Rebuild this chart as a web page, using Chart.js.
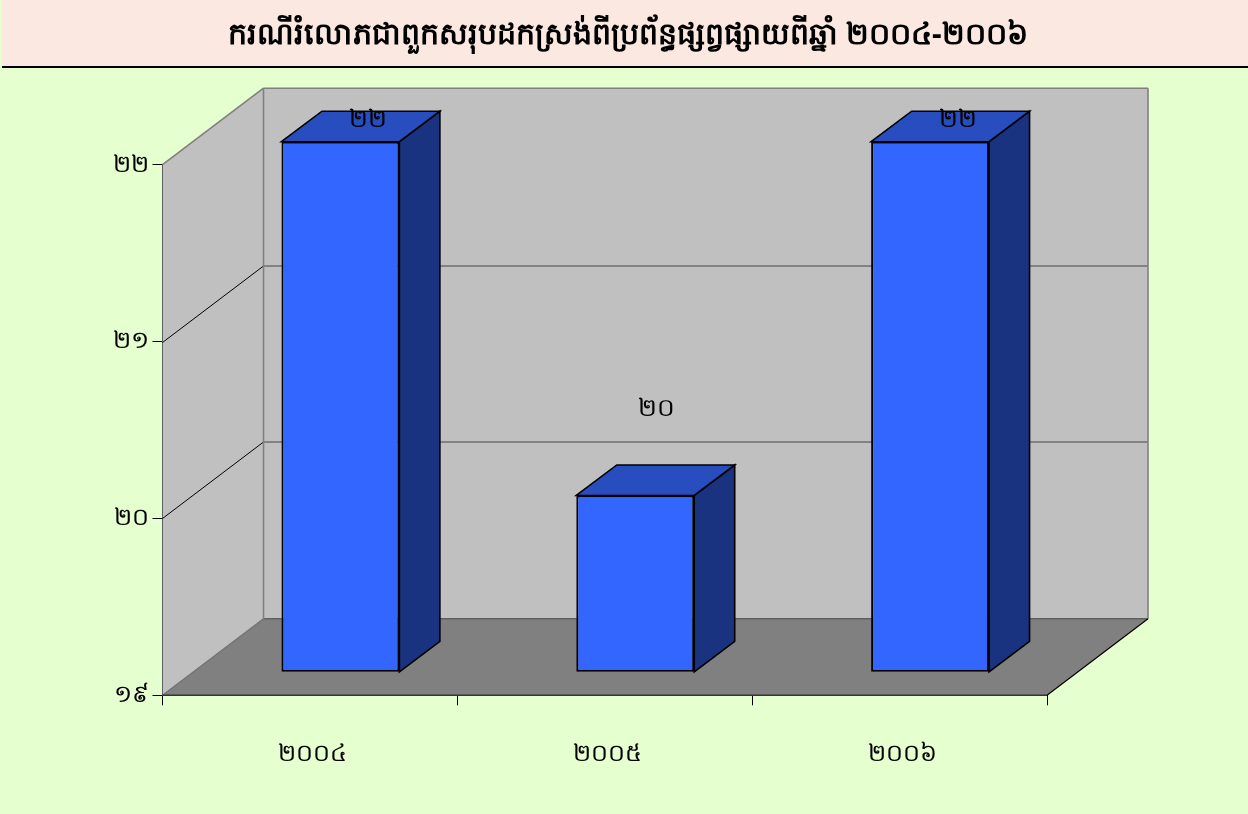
<!DOCTYPE html>
<html><head><meta charset="utf-8">
<style>html,body{margin:0;padding:0;background:#E6FFCE}canvas{display:block}</style>
<script src="https://cdn.jsdelivr.net/npm/chart.js@4"></script></head>
<body><div style="width:1248px;height:814px;position:relative"><canvas id="c" width="1248" height="814"></canvas></div>
<script>
const titleText = "ករណីរំលោភជាពួកសរុបដកស្រង់ពីប្រព័ន្ធផ្សព្វផ្សាយពីឆ្នាំ ២០០៤-២០០៦";
const categories = ["២០០៤", "២០០៥", "២០០៦"];
const values = [22, 20, 22];
const valueLabels = ["២២", "២០", "២២"];
const tickValues = [19, 20, 21, 22];
const tickLabels = {19: "១៩", 20: "២០", 21: "២១", 22: "២២"};
const FONT = "'Noto Sans', 'DejaVu Sans', sans-serif";
const DX = 101, DY = -76.5;     // full depth of the floor
const BX = 30.5, BY = -23;      // bar offset from the front plane
const BDX = 40.5, BDY = -30.5;  // bar depth

function poly(ctx, pts, fill, stroke, lw) {
  ctx.beginPath();
  pts.forEach((p, i) => i ? ctx.lineTo(p[0], p[1]) : ctx.moveTo(p[0], p[1]));
  ctx.closePath();
  if (fill) { ctx.fillStyle = fill; ctx.fill(); }
  if (stroke) { ctx.strokeStyle = stroke; ctx.lineWidth = lw || 1; ctx.stroke(); }
}
function seg(ctx, x1, y1, x2, y2, color, lw) {
  ctx.beginPath(); ctx.moveTo(x1, y1); ctx.lineTo(x2, y2);
  ctx.strokeStyle = color; ctx.lineWidth = lw; ctx.stroke();
}
const scene = {
  id: "scene",
  beforeDraw(chart) {
    const ctx = chart.ctx, W = chart.width;
    ctx.save();
    ctx.fillStyle = "#FBE9E1"; ctx.fillRect(2, 0, W - 2, 66);
    ctx.fillStyle = "#000"; ctx.fillRect(2, 66, W - 2, 2);
    ctx.restore();
  },
  beforeDatasetsDraw(chart) {
    const ctx = chart.ctx, a = chart.chartArea, y = chart.scales.y;
    const L = a.left, R = a.right, T = a.top, B = a.bottom;
    ctx.save();
    poly(ctx, [[L, T], [L + DX, T + DY], [L + DX, B + DY], [L, B]], "#C0C0C0");
    poly(ctx, [[L + DX, T + DY], [R + DX, T + DY], [R + DX, B + DY], [L + DX, B + DY]], "#C0C0C0");
    poly(ctx, [[L, B], [L + DX, B + DY], [R + DX, B + DY], [R, B]], "#808080");
    tickValues.forEach(v => {
      if (v === 19 || v === 22) return;
      const p = Math.round(y.getPixelForValue(v)) + .5;
      seg(ctx, L, p, L + DX, p + DY, "#000", 1);
      seg(ctx, L + DX, p + DY, R + DX, p + DY, "#444", 1.2);
    });
    seg(ctx, L + DX, B + DY, R + DX, B + DY, "#606060", 1.5);
    seg(ctx, L, B, L + DX, B + DY, "#707070", 1.2);
    seg(ctx, L, T, L + DX, T + DY, "#808080", 1.6);
    seg(ctx, L + DX, T + DY, R + DX, T + DY, "#808080", 1.6);
    seg(ctx, L + DX, T + DY, L + DX, B + DY, "#808080", 1.6);
    seg(ctx, R + DX, T + DY, R + DX, B + DY, "#808080", 1.6);
    seg(ctx, R, B, R + DX, B + DY, "#000", 1.2);
    seg(ctx, L, B, R, B, "#333", 1.6);
    ctx.restore();
    ctx.save();
    ctx.translate(BX, BY);
    const els = chart.getDatasetMeta(0).data;
    els.forEach(el => {
      const l = el.x - el.width / 2, r = el.x + el.width / 2, t = el.y, b = el.base;
      poly(ctx, [[r, t], [r + BDX, t + BDY], [r + BDX, b + BDY], [r, b]], "#1A3380", "#000", 1.6);
      poly(ctx, [[l, t], [l + BDX, t + BDY], [r + BDX, t + BDY], [r, t]], "#274DBF", "#000", 1.6);
    });
  },
  afterDatasetsDraw(chart) {
    const ctx = chart.ctx;
    ctx.restore();
    ctx.save();
    ctx.fillStyle = "#000";
    ctx.font = "25px " + FONT;
    ctx.textAlign = "center"; ctx.textBaseline = "middle";
    chart.getDatasetMeta(0).data.forEach((el, i) => {
      const high = values[i] === 22;
      ctx.fillText(valueLabels[i], el.x + (high ? 58 : 52), el.y + (high ? -44.5 : -110));
    });
    ctx.restore();
  }
};
new Chart(document.getElementById("c"), {
  type: "bar",
  data: { labels: categories, datasets: [{
    data: values, base: 19, backgroundColor: "#3366FF", borderColor: "#000", borderWidth: 2,
    borderSkipped: false, barPercentage: 0.4, categoryPercentage: 1
  }]},
  plugins: [scene],
  options: {
    responsive: false, animation: false,
    layout: { padding: { left: 8, right: 0, top: 0, bottom: 11.9 } },
    plugins: {
      legend: { display: false }, tooltip: { enabled: false },
      title: { display: true, text: titleText, color: "#000",
        font: { family: FONT, size: 30, weight: "bold" }, padding: { top: 17, bottom: 111.7 } }
    },
    scales: {
      x: {
        grid: { drawOnChartArea: false, drawTicks: true, tickLength: 10, color: "#000", offset: true },
        border: { color: "#000" },
        ticks: { color: "#000", font: { family: FONT, size: 24 }, padding: 34, maxRotation: 0, labelOffset: 2.5 }
      },
      y: {
        min: 19, max: 22,
        afterBuildTicks(s) { s.ticks = tickValues.map(v => ({ value: v })); },
        afterFit(s) { s.width = 154.5; },
        grid: { drawOnChartArea: false, tickLength: 10, color: "#000" },
        border: { display: true, color: "#000" },
        ticks: { color: "#000", font: { family: FONT, size: 24 }, padding: 4,
          callback: v => tickLabels[v] }
      },
      spacer: {
        position: "right", display: true,
        afterFit(s) { s.width = 201; },
        grid: { display: false }, border: { display: false }, ticks: { display: false }
      }
    }
  }
});
</script></body></html>
